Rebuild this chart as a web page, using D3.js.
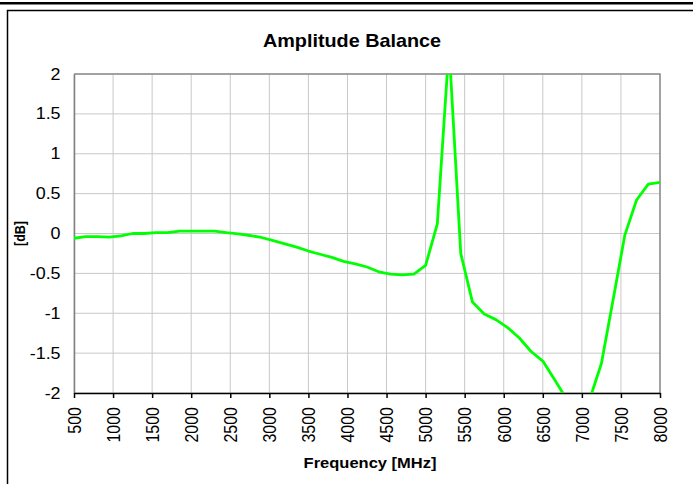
<!DOCTYPE html>
<html>
<head>
<meta charset="utf-8">
<script src="https://cdnjs.cloudflare.com/ajax/libs/d3/7.8.5/d3.min.js"></script>
<style>
  body { margin: 0; background: #fff; }
  svg { display: block; font-family: "Liberation Sans", Arial, sans-serif; }
</style>
</head>
<body>
<div id="graph1"></div>
<script>
// frequency points [MHz]
var freq = [500, 650, 800, 950, 1100, 1250, 1400, 1550, 1700, 1850,
            2000, 2150, 2300, 2450, 2600, 2750, 2900, 3050, 3200, 3350,
            3500, 3650, 3800, 3950, 4100, 4250, 4400, 4550, 4700, 4850,
            5000, 5150, 5300, 5450, 5600, 5750, 5900, 6050, 6200, 6350,
            6500, 6650, 6800, 6950, 7100, 7250, 7400, 7550, 7700, 7850, 8000];
// amplitude balance [dB]
var balance = [-0.06, -0.04, -0.04, -0.045, -0.03, 0.0, 0.0, 0.01, 0.01, 0.03,
               0.03, 0.03, 0.03, 0.01, -0.005, -0.025, -0.05, -0.09, -0.13, -0.17,
               -0.22, -0.26, -0.30, -0.35, -0.38, -0.42, -0.48, -0.51, -0.52, -0.51,
               -0.40, 0.12, 2.35, -0.25, -0.86, -1.01, -1.08, -1.18, -1.31, -1.48,
               -1.60, -1.83, -2.07, -2.4, -2.08, -1.63, -0.83, -0.02, 0.42, 0.62, 0.64];
var xTicks = [500, 1000, 1500, 2000, 2500, 3000, 3500, 4000, 4500, 5000, 5500, 6000, 6500, 7000, 7500, 8000];
var yTicks = [-2, -1.5, -1, -0.5, 0, 0.5, 1, 1.5, 2];

function draw_chart(){
    var W = 693, H = 484;
    var left = 74, top = 74, right = 660, bottom = 393;
    var sx = 1.12; // text looks a bit wide in the original

    var svg = d3.select("#graph1").append("svg")
      .attr("width", W)
      .attr("height", H);

    // frame
    svg.append("rect").attr("x", 0).attr("y", 2).attr("width", W).attr("height", 2.5).attr("fill", "#000");
    svg.append("rect")
      .attr("x", 7.5).attr("y", 10.5).attr("width", 700).attr("height", 500)
      .attr("fill", "none").attr("stroke", "#000").attr("stroke-width", 1.5);

    var xscale = d3.scaleLinear().domain([500, 8000]).range([left, right]);
    var yscale = d3.scaleLinear().domain([-2, 2]).range([bottom, top]);

    // grid
    svg.append("g").selectAll("line").data(yTicks).enter().append("line")
      .attr("x1", left).attr("x2", right)
      .attr("y1", function(d){ return yscale(d); }).attr("y2", function(d){ return yscale(d); })
      .attr("stroke", "#c8c8c8").attr("stroke-width", 1);
    svg.append("g").selectAll("line").data(xTicks).enter().append("line")
      .attr("y1", top).attr("y2", bottom)
      .attr("x1", function(d){ return xscale(d); }).attr("x2", function(d){ return xscale(d); })
      .attr("stroke", "#c8c8c8").attr("stroke-width", 1);

    // top / right border
    svg.append("path")
      .attr("d", "M" + left + "," + top + "H" + right + "V" + bottom)
      .attr("fill", "none").attr("stroke", "#8c8c8c").attr("stroke-width", 1.5);

    // y axis
    var yAxis = svg.append("g")
      .attr("transform", "translate(" + left + ",0)")
      .call(d3.axisLeft(yscale).tickValues(yTicks).tickSize(0).tickPadding(12)
            .tickFormat(function(d){ return String(d); }));
    yAxis.select(".domain").attr("stroke", "#808080").attr("stroke-width", 1.5);
    yAxis.selectAll("text").attr("font-size", 16).attr("fill", "#000")
      .attr("font-family", "Liberation Sans, Arial, sans-serif")
      .attr("transform", "scale(" + sx + ",1)");

    // x axis
    var xAxis = svg.append("g")
      .attr("transform", "translate(0," + bottom + ")")
      .call(d3.axisBottom(xscale).tickValues(xTicks).tickSizeInner(5).tickSizeOuter(0)
            .tickFormat(d3.format("d")));
    xAxis.select(".domain").attr("stroke", "#000").attr("stroke-width", 1.5);
    xAxis.selectAll("line").attr("stroke", "#000").attr("stroke-width", 1.5);
    xAxis.selectAll("text")
      .attr("font-size", 16).attr("fill", "#000")
      .attr("font-family", "Liberation Sans, Arial, sans-serif")
      .attr("transform", "scale(" + sx + ",1) rotate(-90)")
      .attr("text-anchor", "end")
      .attr("x", -14).attr("y", 0).attr("dy", "0.35em");

    // curve
    svg.append("clipPath").attr("id", "plotclip")
      .append("rect").attr("x", left).attr("y", top).attr("width", right - left).attr("height", bottom - top);
    var line = d3.line()
      .x(function(d, i){ return xscale(freq[i]); })
      .y(function(d){ return yscale(d); });
    svg.append("path")
      .datum(balance)
      .attr("clip-path", "url(#plotclip)")
      .attr("d", line)
      .attr("fill", "none")
      .attr("stroke", "#00ff00")
      .attr("stroke-width", 2.8)
      .attr("stroke-linejoin", "round");

    // titles
    svg.append("text")
      .attr("transform", "translate(352,47) scale(1.1,1)")
      .attr("text-anchor", "middle")
      .attr("font-size", 18).attr("font-weight", "bold")
      .text("Amplitude Balance");
    svg.append("text")
      .attr("transform", "translate(370,468) scale(1.1,1)")
      .attr("text-anchor", "middle")
      .attr("font-size", 15).attr("font-weight", "bold")
      .text("Frequency [MHz]");
    svg.append("text")
      .attr("transform", "translate(25," + yscale(0) + ") scale(" + sx + ",1) rotate(-90)")
      .attr("text-anchor", "middle")
      .attr("font-size", 12.5).attr("font-weight", "bold")
      .text("[dB]");
}

draw_chart();
</script>
</body>
</html>
